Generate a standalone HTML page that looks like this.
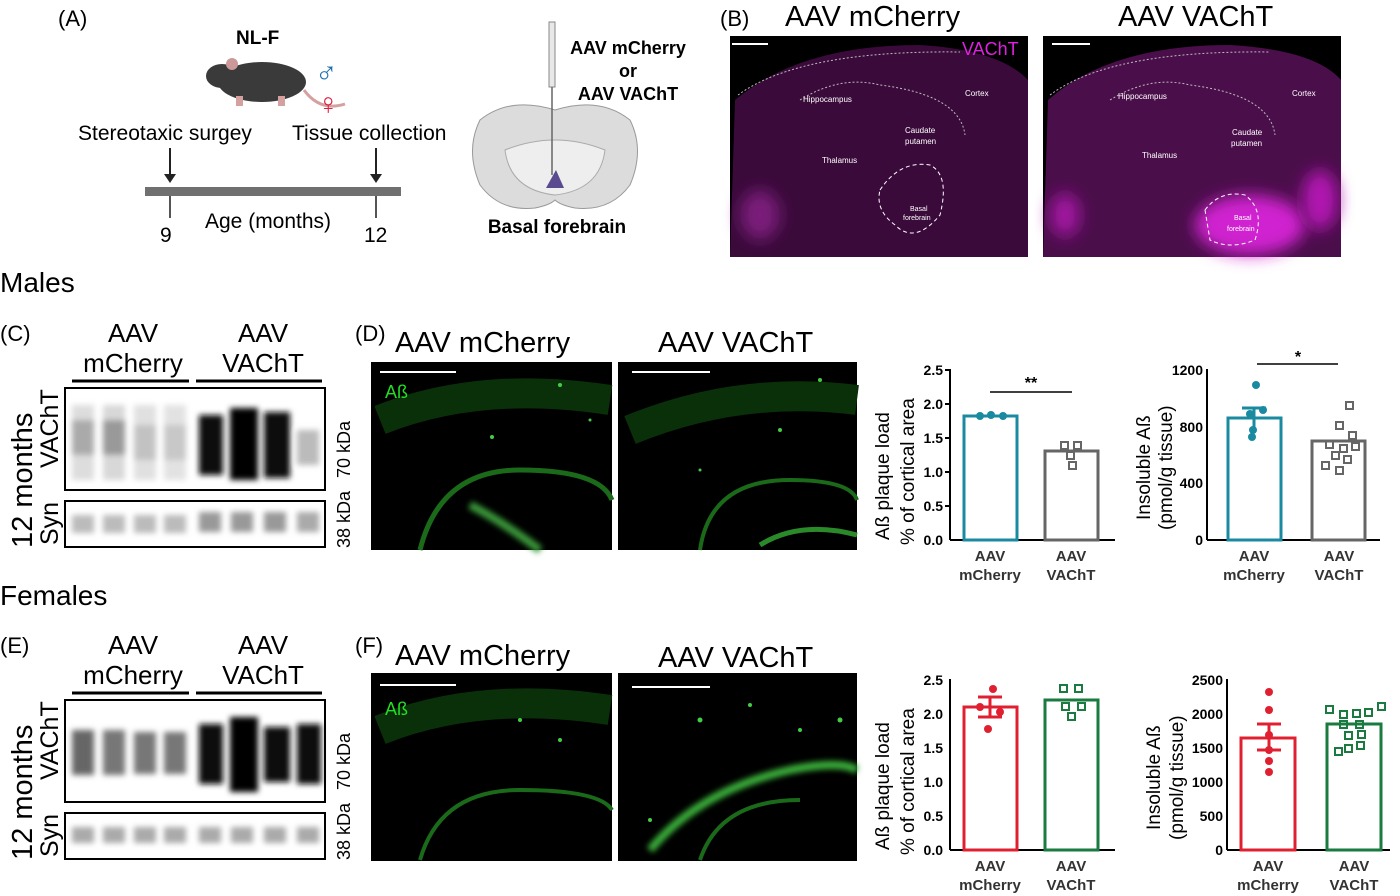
<!DOCTYPE html>
<html><head><meta charset="utf-8"><style>
html,body{margin:0;padding:0;background:#fff}
svg{display:block}
text{font-family:"Liberation Sans",sans-serif}
</style></head><body>
<svg width="1400" height="896" viewBox="0 0 1400 896" xmlns="http://www.w3.org/2000/svg">
<defs>
<filter id="b3" x="-50%" y="-50%" width="200%" height="200%"><feGaussianBlur stdDeviation="3"/></filter>
<filter id="b8" x="-50%" y="-50%" width="200%" height="200%"><feGaussianBlur stdDeviation="8"/></filter>
</defs>
<!-- (A) -->
<text x="58" y="26" font-size="22">(A)</text>
<text x="236" y="44" font-size="19" font-weight="bold">NL-F</text>
<ellipse cx="262" cy="82" rx="44" ry="20" fill="#3a3a3a"/>
<ellipse cx="222" cy="76" rx="16" ry="12" fill="#3a3a3a"/>
<circle cx="232" cy="64" r="6" fill="#c99"/>
<path d="M304 90 Q320 112 345 104" stroke="#d4a0a0" stroke-width="3" fill="none"/>
<rect x="236" y="96" width="7" height="10" fill="#d4a0a0"/><rect x="278" y="96" width="7" height="10" fill="#d4a0a0"/>
<text x="315" y="82" font-size="30" fill="#1f6fb0" font-weight="bold" font-family="DejaVu Sans">♂</text>
<text x="317" y="114" font-size="30" fill="#e02040" font-weight="bold" font-family="DejaVu Sans">♀</text>
<text x="78" y="140" font-size="21">Stereotaxic surgey</text>
<text x="292" y="140" font-size="21">Tissue collection</text>
<line x1="170" y1="148" x2="170" y2="176" stroke="#222" stroke-width="2"/><path d="M164 174 L176 174 L170 183Z" fill="#222"/>
<line x1="376" y1="148" x2="376" y2="176" stroke="#222" stroke-width="2"/><path d="M370 174 L382 174 L376 183Z" fill="#222"/>
<rect x="145" y="187" width="256" height="9" fill="#707070"/>
<line x1="170" y1="196" x2="170" y2="218" stroke="#555" stroke-width="2"/>
<line x1="376" y1="196" x2="376" y2="218" stroke="#555" stroke-width="2"/>
<text x="160" y="242" font-size="21">9</text>
<text x="205" y="228" font-size="21">Age (months)</text>
<text x="364" y="242" font-size="21">12</text>
<!-- brain -->
<path d="M555 110 Q600 96 630 120 Q645 150 630 185 Q610 212 575 208 Q560 205 555 200 Q550 205 535 208 Q500 212 480 185 Q465 150 480 120 Q510 96 555 110Z" fill="#dcdcdc" stroke="#999"/>
<path d="M505 150 Q555 130 605 150 Q600 190 555 195 Q510 190 505 150Z" fill="#eee" stroke="#aaa"/>
<path d="M546 188 L556 170 L564 188Z" fill="#5a4a90"/>
<rect x="549" y="22" width="6" height="65" fill="#e8e8e8" stroke="#888"/>
<line x1="552" y1="87" x2="552" y2="175" stroke="#666" stroke-width="1.5"/>
<text x="628" y="54" font-size="18" font-weight="bold" text-anchor="middle">AAV mCherry</text>
<text x="628" y="77" font-size="18" font-weight="bold" text-anchor="middle">or</text>
<text x="628" y="100" font-size="18" font-weight="bold" text-anchor="middle">AAV VAChT</text>
<text x="557" y="233" font-size="19" font-weight="bold" text-anchor="middle">Basal forebrain</text>
<!-- (B) -->
<text x="720" y="26" font-size="22">(B)</text>
<text x="785" y="26" font-size="29">AAV mCherry</text>
<text x="1118" y="26" font-size="29">AAV VAChT</text>
<rect x="730" y="36" width="298" height="221" fill="#000"/>
<path d="M735 100 Q800 45 920 45 Q1000 50 1028 80 L1028 257 L730 257Z" fill="#3a0a3a"/>
<ellipse cx="760" cy="215" rx="20" ry="25" fill="#7a1a7a" filter="url(#b8)"/>
<path d="M738 95 Q800 50 960 52 M800 100 Q840 75 880 85 Q960 95 965 135" stroke="#bbb" stroke-dasharray="2 2" fill="none"/>
<path d="M880 190 Q900 160 930 165 Q950 175 940 215 Q915 245 895 225 Q875 210 880 190Z" stroke="#fff" stroke-dasharray="4 3" fill="none"/>
<text x="803" y="102" font-size="8" fill="#fff">Hippocampus</text>
<text x="965" y="96" font-size="8" fill="#fff">Cortex</text>
<text x="905" y="133" font-size="8" fill="#fff">Caudate</text><text x="905" y="144" font-size="8" fill="#fff">putamen</text>
<text x="822" y="163" font-size="8" fill="#fff">Thalamus</text>
<text x="910" y="211" font-size="7" fill="#fff">Basal</text><text x="903" y="220" font-size="7" fill="#fff">forebrain</text>
<line x1="732" y1="44" x2="768" y2="44" stroke="#fff" stroke-width="2"/>
<text x="962" y="55" font-size="18" fill="#e020e0">VAChT</text>
<rect x="1043" y="36" width="298" height="221" fill="#000"/>
<path d="M1048 100 Q1110 45 1230 45 Q1315 50 1341 80 L1341 257 L1043 257Z" fill="#4a0e4a"/>
<ellipse cx="1250" cy="225" rx="55" ry="30" fill="#d020d0" filter="url(#b8)"/>
<ellipse cx="1320" cy="200" rx="18" ry="30" fill="#b018b0" filter="url(#b8)"/>
<ellipse cx="1065" cy="215" rx="15" ry="22" fill="#a018a0" filter="url(#b8)"/>
<path d="M1050 95 Q1110 50 1270 52 M1110 100 Q1150 75 1190 85 Q1270 95 1275 135" stroke="#bbb" stroke-dasharray="2 2" fill="none"/>
<path d="M1205 210 Q1220 190 1245 195 Q1265 210 1255 240 Q1230 250 1210 240Z" stroke="#fff" stroke-dasharray="4 3" fill="none"/>
<text x="1118" y="99" font-size="8" fill="#fff">Hippocampus</text>
<text x="1292" y="96" font-size="8" fill="#fff">Cortex</text>
<text x="1232" y="135" font-size="8" fill="#fff">Caudate</text><text x="1231" y="146" font-size="8" fill="#fff">putamen</text>
<text x="1142" y="158" font-size="8" fill="#fff">Thalamus</text>
<text x="1234" y="220" font-size="7" fill="#fff">Basal</text><text x="1227" y="231" font-size="7" fill="#fff">forebrain</text>
<line x1="1052" y1="44" x2="1090" y2="44" stroke="#fff" stroke-width="2"/>

<text x="0" y="292" font-size="28">Males</text>
<text x="0" y="605" font-size="28">Females</text>

<!-- Blots: C and E -->
<g>
<text x="0" y="341" font-size="22">(C)</text>
<text x="133" y="342" font-size="26" text-anchor="middle">AAV</text>
<text x="133" y="372" font-size="26" text-anchor="middle">mCherry</text>
<text x="263" y="342" font-size="26" text-anchor="middle">AAV</text>
<text x="263" y="372" font-size="26" text-anchor="middle">VAChT</text>
<line x1="72" y1="381" x2="189" y2="381" stroke="#000" stroke-width="3"/>
<line x1="196" y1="381" x2="322" y2="381" stroke="#000" stroke-width="3"/>
<rect x="65" y="388" width="260" height="102" fill="#fff" stroke="#000" stroke-width="2"/>
<g filter="url(#b3)">
<rect x="72" y="405" width="22" height="75" fill="#ddd"/><rect x="103" y="405" width="22" height="75" fill="#d8d8d8"/>
<rect x="134" y="405" width="22" height="75" fill="#e0e0e0"/><rect x="164" y="405" width="22" height="75" fill="#e2e2e2"/>
<rect x="72" y="420" width="22" height="35" fill="#aaa"/><rect x="103" y="420" width="22" height="35" fill="#999"/>
<rect x="134" y="425" width="22" height="35" fill="#c2c2c2"/><rect x="164" y="425" width="22" height="35" fill="#c8c8c8"/>
<rect x="199" y="415" width="24" height="60" fill="#111"/><rect x="230" y="408" width="28" height="72" fill="#000"/>
<rect x="264" y="412" width="26" height="66" fill="#111"/><rect x="297" y="430" width="22" height="35" fill="#bbb"/>
</g>
<rect x="65" y="501" width="260" height="46" fill="#fff" stroke="#000" stroke-width="2"/>
<g filter="url(#b3)" fill="#bbb">
<rect x="72" y="515" width="22" height="18"/><rect x="103" y="515" width="22" height="18"/><rect x="134" y="515" width="22" height="18"/><rect x="164" y="515" width="22" height="18"/>
<rect x="199" y="512" width="22" height="20" fill="#999"/><rect x="231" y="512" width="22" height="20" fill="#999"/><rect x="264" y="512" width="22" height="20" fill="#999"/><rect x="297" y="512" width="22" height="20" fill="#aaa"/>
</g>
<text transform="translate(32,548) rotate(-90)" font-size="29">12 months</text>
<text transform="translate(58,468) rotate(-90)" font-size="25">VAChT</text>
<text transform="translate(58,545) rotate(-90)" font-size="25">Syn</text>
<text transform="translate(350,478) rotate(-90)" font-size="18">70 kDa</text>
<text transform="translate(350,548) rotate(-90)" font-size="18">38 kDa</text>
</g>
<g transform="translate(0,312)">
<text x="0" y="341" font-size="22">(E)</text>
<text x="133" y="342" font-size="26" text-anchor="middle">AAV</text>
<text x="133" y="372" font-size="26" text-anchor="middle">mCherry</text>
<text x="263" y="342" font-size="26" text-anchor="middle">AAV</text>
<text x="263" y="372" font-size="26" text-anchor="middle">VAChT</text>
<line x1="72" y1="381" x2="189" y2="381" stroke="#000" stroke-width="3"/>
<line x1="196" y1="381" x2="322" y2="381" stroke="#000" stroke-width="3"/>
<rect x="65" y="388" width="260" height="102" fill="#fff" stroke="#000" stroke-width="2"/>
<g filter="url(#b3)">
<rect x="72" y="418" width="22" height="45" fill="#666"/><rect x="103" y="418" width="22" height="45" fill="#777"/>
<rect x="134" y="420" width="22" height="42" fill="#777"/><rect x="164" y="420" width="22" height="42" fill="#777"/>
<rect x="199" y="412" width="24" height="60" fill="#111"/><rect x="230" y="405" width="28" height="75" fill="#000"/>
<rect x="264" y="415" width="26" height="55" fill="#111"/><rect x="297" y="412" width="24" height="60" fill="#111"/>
</g>
<rect x="65" y="501" width="260" height="46" fill="#fff" stroke="#000" stroke-width="2"/>
<g filter="url(#b3)" fill="#aaa">
<rect x="72" y="515" width="22" height="16"/><rect x="103" y="515" width="22" height="16"/><rect x="134" y="515" width="22" height="16"/><rect x="164" y="515" width="22" height="16"/>
<rect x="199" y="515" width="22" height="16"/><rect x="231" y="515" width="22" height="16"/><rect x="264" y="515" width="22" height="16"/><rect x="297" y="515" width="22" height="16"/>
</g>
<text transform="translate(32,548) rotate(-90)" font-size="29">12 months</text>
<text transform="translate(58,468) rotate(-90)" font-size="25">VAChT</text>
<text transform="translate(58,545) rotate(-90)" font-size="25">Syn</text>
<text transform="translate(350,478) rotate(-90)" font-size="18">70 kDa</text>
<text transform="translate(350,548) rotate(-90)" font-size="18">38 kDa</text>
</g>

<!-- D / F images -->
<g>
<text x="355" y="341" font-size="22">(D)</text>
<text x="395" y="352" font-size="29">AAV mCherry</text>
<text x="658" y="352" font-size="29">AAV VAChT</text>
<rect x="371" y="362" width="241" height="188" fill="#000"/>
<rect x="618" y="362" width="239" height="188" fill="#000"/>
<path d="M380 420 Q480 380 610 400" stroke="#0a300a" stroke-width="30" fill="none"/>
<path d="M420 550 Q440 470 520 470 Q600 470 612 500" stroke="#1a6a1a" stroke-width="5" fill="none"/>
<path d="M470 505 Q500 520 540 550" stroke="#3a9a3a" stroke-width="8" fill="none" filter="url(#b3)"/>
<path d="M630 430 Q740 385 857 400" stroke="#0a300a" stroke-width="30" fill="none"/>
<path d="M700 550 Q710 480 790 480 Q850 480 857 500" stroke="#1a6a1a" stroke-width="4" fill="none"/>
<path d="M760 545 Q800 520 857 535" stroke="#2a8a2a" stroke-width="5" fill="none"/>
<g fill="#4c4">
<circle cx="492" cy="437" r="2"/><circle cx="560" cy="385" r="2"/><circle cx="590" cy="420" r="1.5"/><circle cx="780" cy="430" r="2"/><circle cx="700" cy="470" r="1.5"/><circle cx="820" cy="380" r="2"/>
</g>
<line x1="380" y1="372" x2="456" y2="372" stroke="#fff" stroke-width="2"/>
<line x1="632" y1="372" x2="710" y2="372" stroke="#fff" stroke-width="2"/>
<text x="385" y="398" font-size="18" fill="#2d2">Aß</text>
</g>
<g>
<text x="355" y="653" font-size="22">(F)</text>
<text x="395" y="665" font-size="29">AAV mCherry</text>
<text x="658" y="667" font-size="29">AAV VAChT</text>
<rect x="371" y="673" width="241" height="188" fill="#000"/>
<rect x="618" y="673" width="239" height="188" fill="#000"/>
<path d="M380 730 Q480 690 610 710" stroke="#0a300a" stroke-width="30" fill="none"/>
<path d="M420 860 Q440 790 520 790 Q600 790 612 810" stroke="#1a6a1a" stroke-width="4" fill="none"/>
<path d="M650 850 Q700 790 790 770 Q840 760 857 770" stroke="#3ab03a" stroke-width="8" fill="none" filter="url(#b3)"/>
<path d="M700 860 Q720 800 800 800" stroke="#1a6a1a" stroke-width="4" fill="none"/>
<g fill="#4c4">
<circle cx="520" cy="720" r="2"/><circle cx="560" cy="740" r="2"/><circle cx="700" cy="720" r="2.5"/><circle cx="750" cy="705" r="2"/><circle cx="800" cy="730" r="2"/><circle cx="840" cy="720" r="2.5"/><circle cx="650" cy="820" r="2"/>
</g>
<line x1="380" y1="685" x2="456" y2="685" stroke="#fff" stroke-width="2"/>
<line x1="632" y1="687" x2="710" y2="687" stroke="#fff" stroke-width="2"/>
<text x="385" y="715" font-size="18" fill="#2d2">Aß</text>
</g>

<!-- Charts -->
<g font-size="14" font-weight="bold" fill="#000">
<!-- chart 1 D -->
<line x1="950" y1="369" x2="950" y2="540" stroke="#000" stroke-width="2"/>
<line x1="950" y1="540" x2="1115" y2="540" stroke="#000" stroke-width="2"/>
<g text-anchor="end" font-size="14"><text x="943" y="375">2.5</text><text x="943" y="409">2.0</text><text x="943" y="443">1.5</text><text x="943" y="477">1.0</text><text x="943" y="511">0.5</text><text x="943" y="545">0.0</text></g>
<g stroke="#000" stroke-width="2"><line x1="945" y1="370" x2="950" y2="370"/><line x1="945" y1="404" x2="950" y2="404"/><line x1="945" y1="438" x2="950" y2="438"/><line x1="945" y1="472" x2="950" y2="472"/><line x1="945" y1="506" x2="950" y2="506"/></g>
<rect x="964" y="416" width="53" height="124" fill="none" stroke="#1a8aa0" stroke-width="3"/>
<rect x="1045" y="451" width="53" height="89" fill="none" stroke="#666" stroke-width="3"/>
<g fill="#1a8aa0"><circle cx="980" cy="416" r="4"/><circle cx="991" cy="415" r="4"/><circle cx="1003" cy="416" r="4"/></g>
<g fill="none" stroke="#666" stroke-width="2"><rect x="1061" y="442" width="7" height="7"/><rect x="1074" y="442" width="7" height="7"/><rect x="1067" y="452" width="7" height="7"/><rect x="1069" y="462" width="7" height="7"/></g>
<line x1="990" y1="392" x2="1072" y2="392" stroke="#000" stroke-width="1.5"/>
<text x="1031" y="388" font-size="16" text-anchor="middle">**</text>
<text x="990" y="561" font-size="15" text-anchor="middle" fill="#333">AAV</text><text x="990" y="580" font-size="15" text-anchor="middle" fill="#333">mCherry</text>
<text x="1071" y="561" font-size="15" text-anchor="middle" fill="#333">AAV</text><text x="1071" y="580" font-size="15" text-anchor="middle" fill="#333">VAChT</text>
<text transform="translate(889,540) rotate(-90)" font-size="19" font-weight="normal">Aß plaque load</text>
<text transform="translate(914,545) rotate(-90)" font-size="19" font-weight="normal">% of cortical area</text>

<!-- chart 2 D -->
<line x1="1207" y1="369" x2="1207" y2="540" stroke="#000" stroke-width="2"/>
<line x1="1207" y1="540" x2="1380" y2="540" stroke="#000" stroke-width="2"/>
<g text-anchor="end" font-size="14"><text x="1203" y="375">1200</text><text x="1203" y="432">800</text><text x="1203" y="488">400</text><text x="1203" y="545">0</text></g>
<rect x="1228" y="418" width="53" height="122" fill="none" stroke="#1a8aa0" stroke-width="3"/>
<line x1="1254" y1="408" x2="1254" y2="427" stroke="#1a8aa0" stroke-width="3"/><line x1="1242" y1="408" x2="1266" y2="408" stroke="#1a8aa0" stroke-width="3"/>
<rect x="1312" y="441" width="53" height="99" fill="none" stroke="#666" stroke-width="3"/>
<g fill="#1a8aa0"><circle cx="1256" cy="385" r="4"/><circle cx="1263" cy="410" r="4"/><circle cx="1250" cy="414" r="4"/><circle cx="1253" cy="430" r="4"/><circle cx="1252" cy="437" r="4"/></g>
<g fill="none" stroke="#666" stroke-width="2"><rect x="1346" y="402" width="7" height="7"/><rect x="1336" y="422" width="7" height="7"/><rect x="1349" y="432" width="7" height="7"/><rect x="1326" y="441" width="7" height="7"/><rect x="1340" y="445" width="7" height="7"/><rect x="1352" y="443" width="7" height="7"/><rect x="1332" y="452" width="7" height="7"/><rect x="1344" y="456" width="7" height="7"/><rect x="1322" y="462" width="7" height="7"/><rect x="1336" y="467" width="7" height="7"/></g>
<line x1="1257" y1="364" x2="1338" y2="364" stroke="#000" stroke-width="1.5"/>
<text x="1298" y="362" font-size="16" text-anchor="middle">*</text>
<text x="1254" y="561" font-size="15" text-anchor="middle" fill="#333">AAV</text><text x="1254" y="580" font-size="15" text-anchor="middle" fill="#333">mCherry</text>
<text x="1339" y="561" font-size="15" text-anchor="middle" fill="#333">AAV</text><text x="1339" y="580" font-size="15" text-anchor="middle" fill="#333">VAChT</text>
<text transform="translate(1150,520) rotate(-90)" font-size="19" font-weight="normal">Insoluble Aß</text>
<text transform="translate(1172,530) rotate(-90)" font-size="19" font-weight="normal">(pmol/g tissue)</text>

<!-- chart 1 F -->
<line x1="950" y1="679" x2="950" y2="850" stroke="#000" stroke-width="2"/>
<line x1="950" y1="850" x2="1115" y2="850" stroke="#000" stroke-width="2"/>
<g text-anchor="end" font-size="14"><text x="943" y="685">2.5</text><text x="943" y="719">2.0</text><text x="943" y="753">1.5</text><text x="943" y="787">1.0</text><text x="943" y="821">0.5</text><text x="943" y="855">0.0</text></g>
<rect x="964" y="707" width="53" height="143" fill="none" stroke="#e02030" stroke-width="3"/>
<line x1="990" y1="697" x2="990" y2="717" stroke="#e02030" stroke-width="3"/><line x1="978" y1="697" x2="1002" y2="697" stroke="#e02030" stroke-width="3"/><line x1="978" y1="717" x2="1002" y2="717" stroke="#e02030" stroke-width="3"/>
<rect x="1045" y="700" width="53" height="150" fill="none" stroke="#1a7a40" stroke-width="3"/>
<g fill="#e02030"><circle cx="993" cy="689" r="4"/><circle cx="980" cy="707" r="4"/><circle cx="1000" cy="712" r="4"/><circle cx="988" cy="729" r="4"/></g>
<g fill="none" stroke="#1a7a40" stroke-width="2"><rect x="1060" y="685" width="7" height="7"/><rect x="1075" y="685" width="7" height="7"/><rect x="1062" y="703" width="7" height="7"/><rect x="1078" y="703" width="7" height="7"/><rect x="1068" y="713" width="7" height="7"/></g>
<text x="990" y="871" font-size="15" text-anchor="middle" fill="#333">AAV</text><text x="990" y="890" font-size="15" text-anchor="middle" fill="#333">mCherry</text>
<text x="1071" y="871" font-size="15" text-anchor="middle" fill="#333">AAV</text><text x="1071" y="890" font-size="15" text-anchor="middle" fill="#333">VAChT</text>
<text transform="translate(889,850) rotate(-90)" font-size="19" font-weight="normal">Aß plaque load</text>
<text transform="translate(914,855) rotate(-90)" font-size="19" font-weight="normal">% of cortical area</text>

<!-- chart 2 F -->
<line x1="1227" y1="679" x2="1227" y2="850" stroke="#000" stroke-width="2"/>
<line x1="1227" y1="850" x2="1390" y2="850" stroke="#000" stroke-width="2"/>
<g text-anchor="end" font-size="14"><text x="1223" y="685">2500</text><text x="1223" y="719">2000</text><text x="1223" y="753">1500</text><text x="1223" y="787">1000</text><text x="1223" y="821">500</text><text x="1223" y="855">0</text></g>
<rect x="1241" y="738" width="54" height="112" fill="none" stroke="#e02030" stroke-width="3"/>
<line x1="1269" y1="724" x2="1269" y2="750" stroke="#e02030" stroke-width="3"/><line x1="1257" y1="724" x2="1281" y2="724" stroke="#e02030" stroke-width="3"/><line x1="1257" y1="750" x2="1281" y2="750" stroke="#e02030" stroke-width="3"/>
<rect x="1327" y="724" width="54" height="126" fill="none" stroke="#1a7a40" stroke-width="3"/>
<g fill="#e02030"><circle cx="1269" cy="692" r="4"/><circle cx="1269" cy="710" r="4"/><circle cx="1269" cy="735" r="4"/><circle cx="1269" cy="750" r="4"/><circle cx="1269" cy="761" r="4"/><circle cx="1269" cy="772" r="4"/></g>
<g fill="none" stroke="#1a7a40" stroke-width="2"><rect x="1326" y="706" width="7" height="7"/><rect x="1378" y="703" width="7" height="7"/><rect x="1340" y="711" width="7" height="7"/><rect x="1353" y="710" width="7" height="7"/><rect x="1365" y="709" width="7" height="7"/><rect x="1340" y="721" width="7" height="7"/><rect x="1356" y="721" width="7" height="7"/><rect x="1345" y="732" width="7" height="7"/><rect x="1358" y="731" width="7" height="7"/><rect x="1345" y="745" width="7" height="7"/><rect x="1357" y="742" width="7" height="7"/><rect x="1335" y="748" width="7" height="7"/></g>
<text x="1268" y="871" font-size="15" text-anchor="middle" fill="#333">AAV</text><text x="1268" y="890" font-size="15" text-anchor="middle" fill="#333">mCherry</text>
<text x="1354" y="871" font-size="15" text-anchor="middle" fill="#333">AAV</text><text x="1354" y="890" font-size="15" text-anchor="middle" fill="#333">VAChT</text>
<text transform="translate(1160,830) rotate(-90)" font-size="19" font-weight="normal">Insoluble Aß</text>
<text transform="translate(1183,840) rotate(-90)" font-size="19" font-weight="normal">(pmol/g tissue)</text>
</g>
</svg>
</body></html>
